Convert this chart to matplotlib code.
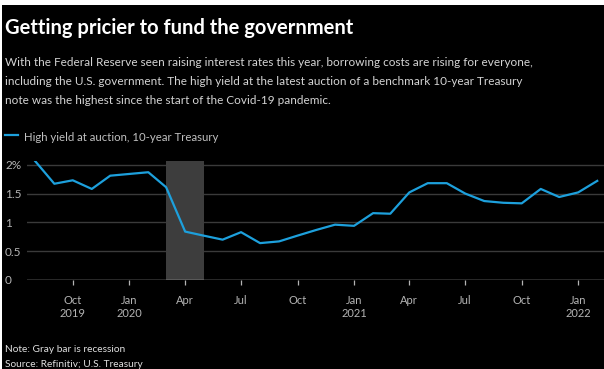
import datetime as dt
import matplotlib.pyplot as plt
from matplotlib.patches import Rectangle

plt.rcParams['font.family'] = ['Lato', 'DejaVu Sans']

# monthly auction high yields, 10-year note (%)
months = [dt.date(2019, 8, 1)]
while len(months) < 31:
    m = months[-1]
    months.append(dt.date(m.year + (m.month // 12), m.month % 12 + 1, 1))
yields = [2.06, 1.67, 1.73, 1.58, 1.81, 1.84, 1.87, 1.61, 0.84, 0.77,
          0.70, 0.83, 0.64, 0.67, 0.77, 0.87, 0.96, 0.94, 1.16, 1.15,
          1.52, 1.68, 1.68, 1.50, 1.37, 1.34, 1.33, 1.58, 1.44, 1.52, 1.72]
recession = (dt.date(2020, 3, 1), dt.date(2020, 5, 1))
tick_dates = [dt.date(2019, 10, 1), dt.date(2020, 1, 1), dt.date(2020, 4, 1),
              dt.date(2020, 7, 1), dt.date(2020, 10, 1), dt.date(2021, 1, 1),
              dt.date(2021, 4, 1), dt.date(2021, 7, 1), dt.date(2021, 10, 1),
              dt.date(2022, 1, 1)]
tick_labels = ['Oct\n2019', 'Jan\n2020', 'Apr', 'Jul', 'Oct', 'Jan\n2021',
               'Apr', 'Jul', 'Oct', 'Jan\n2022']
y_ticks = [0, 0.5, 1, 1.5, 2]
y_labels = ['0', '0.5', '1', '1.5', '2%']

W, H = 604, 369
BLUE = '#1da0dc'
GREY = '#b4b4b4'

fig = plt.figure(figsize=(W / 100, H / 100), dpi=100, facecolor='white')
# black card
fig.patches.append(Rectangle((2 / W, 0), 1, 1 - 5 / H, transform=fig.transFigure,
                             facecolor='black', edgecolor='none', zorder=-5))

def px(x, y):
    return x / W, 1 - y / H

left, right, top, bottom = 26.7, 604, 160.7, 280
ax = fig.add_axes([left / W, 1 - bottom / H, (right - left) / W, (bottom - top) / H])
ax.set_zorder(2)
ax.patch.set_alpha(0)

ax.axvspan(recession[0], recession[1], color='#3d3d3d', lw=0, zorder=1)
ax.plot(months, yields, color=BLUE, lw=1.6, zorder=3, solid_joinstyle='round')

ax.set_ylim(0, 2.07)
ax.set_xlim(dt.date(2019, 7, 18), dt.date(2022, 2, 12))
ax.set_yticks(y_ticks)
ax.set_yticklabels(y_labels)
for v in y_ticks[1:]:
    ax.axhline(v, color='#3a3a3a', lw=1, zorder=0)
ax.axhline(0, color='#cfcfcf', lw=1, zorder=2)

ax.set_xticks(tick_dates)
ax.set_xticklabels(tick_labels, linespacing=1.3)
ax.tick_params(axis='x', length=3.5, width=0.9, color=GREY, colors=GREY,
               labelsize=8, pad=7, direction='out')
ax.tick_params(axis='y', length=0, colors=GREY, labelsize=8.5, pad=15.6)
for lab in ax.get_yticklabels():
    lab.set_horizontalalignment('left')
for s in ax.spines.values():
    s.set_visible(False)

fig.text(*px(5, 34), 'Getting pricier to fund the government', color='white',
         fontsize=14.5, fontweight='bold', va='baseline', ha='left')
sub = ('With the Federal Reserve seen raising interest rates this year, borrowing costs are rising for everyone,',
       'including the U.S. government. The high yield at the latest auction of a benchmark 10-year Treasury',
       'note was the highest since the start of the Covid-19 pandemic.')
for i, line in enumerate(sub):
    fig.text(*px(5, 65.7 + 19 * i), line, color='#d4d4d4', fontsize=8.5,
             va='baseline', ha='left')

fig.add_artist(plt.Line2D([5 / W, 18 / W], [1 - 135.3 / H] * 2, color=BLUE, lw=1.6))
fig.text(*px(24, 140.7), 'High yield at auction, 10-year Treasury', color='#c0c0c0',
         fontsize=8.2, va='baseline', ha='left')

fig.text(*px(5, 352), 'Note: Gray bar is recession', color='#e0e0e0', fontsize=7.3,
         va='baseline', ha='left')
fig.text(*px(5, 367), 'Source: Refinitiv; U.S. Treasury', color='#e0e0e0', fontsize=7.3,
         va='baseline', ha='left')

fig.savefig('out.png', dpi=100, facecolor=fig.get_facecolor())
